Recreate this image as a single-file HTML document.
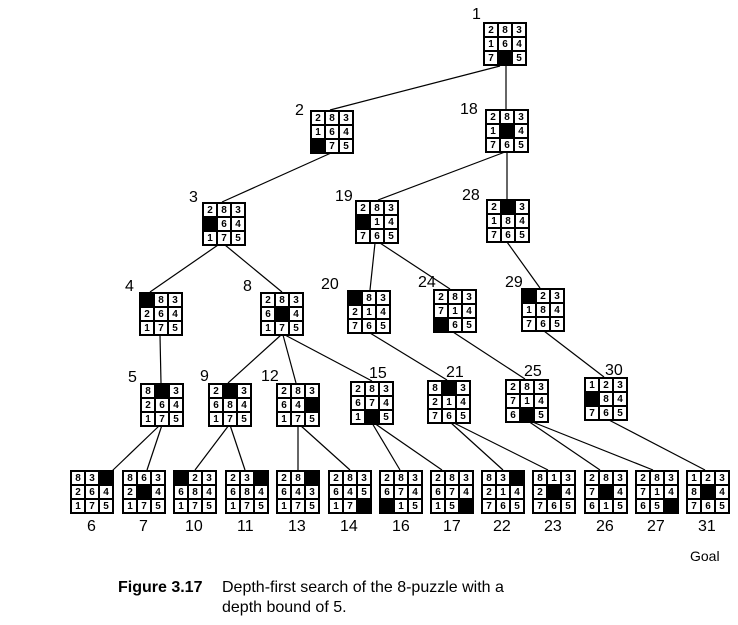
<!DOCTYPE html>
<html><head><meta charset="utf-8"><style>
body{margin:0;background:#fff;}
#c{position:relative;width:738px;height:625px;overflow:hidden;font-family:"Liberation Sans",sans-serif;}
.p{position:absolute;width:42px;height:42px;border:1.5px solid #000;display:grid;grid-template-columns:14px 14px 14px;grid-template-rows:14px 14px 14px;background:#fff;box-sizing:content-box}
.p i,.p b{font-style:normal;display:block;border:0.5px solid #000;box-sizing:border-box;font-size:10px;line-height:13px;text-align:center;font-weight:bold}
.p b{background:#000}
.l{position:absolute;font-size:16px;line-height:16px}
svg{position:absolute;left:0;top:0}
</style></head><body><div id="c">
<svg width="738" height="625" stroke="#000" stroke-width="1.2">
<line x1="500" y1="66" x2="330" y2="110"/><line x1="506" y1="66" x2="506" y2="109"/>
<line x1="331" y1="153" x2="222" y2="202"/>
<line x1="505" y1="152" x2="378" y2="200"/><line x1="507" y1="152" x2="507" y2="199"/>
<line x1="218" y1="245" x2="150" y2="292"/><line x1="225" y1="245" x2="282" y2="292"/>
<line x1="375" y1="243" x2="370" y2="290"/><line x1="380" y1="243" x2="450" y2="289"/>
<line x1="507" y1="242" x2="540" y2="288"/>
<line x1="370" y1="333" x2="447" y2="380"/><line x1="453" y1="332" x2="525" y2="379"/><line x1="544" y1="331" x2="604" y2="377"/>
<line x1="160" y1="335" x2="161" y2="383"/>
<line x1="281" y1="335" x2="228" y2="383"/><line x1="283" y1="335" x2="296" y2="383"/><line x1="285" y1="335" x2="372" y2="381"/>
<line x1="160" y1="425" x2="112" y2="471"/><line x1="162" y1="425" x2="147" y2="470"/>
<line x1="229" y1="425" x2="195" y2="470"/><line x1="230" y1="425" x2="245" y2="470"/>
<line x1="298" y1="425" x2="298" y2="470"/><line x1="300" y1="425" x2="350" y2="470"/>
<line x1="372" y1="423" x2="400" y2="470"/><line x1="374" y1="423" x2="442" y2="470"/>
<line x1="450" y1="422" x2="503" y2="470"/><line x1="452" y1="422" x2="548" y2="470"/>
<line x1="528" y1="421" x2="600" y2="470"/><line x1="530" y1="421" x2="653" y2="470"/>
<line x1="607" y1="419" x2="705" y2="470"/>
</svg>
<div class="p" style="left:483px;top:22px"><i>2</i><i>8</i><i>3</i><i>1</i><i>6</i><i>4</i><i>7</i><b></b><i>5</i></div>
<div class="p" style="left:310px;top:110px"><i>2</i><i>8</i><i>3</i><i>1</i><i>6</i><i>4</i><b></b><i>7</i><i>5</i></div>
<div class="p" style="left:485px;top:109px"><i>2</i><i>8</i><i>3</i><i>1</i><b></b><i>4</i><i>7</i><i>6</i><i>5</i></div>
<div class="p" style="left:202px;top:202px"><i>2</i><i>8</i><i>3</i><b></b><i>6</i><i>4</i><i>1</i><i>7</i><i>5</i></div>
<div class="p" style="left:355px;top:200px"><i>2</i><i>8</i><i>3</i><b></b><i>1</i><i>4</i><i>7</i><i>6</i><i>5</i></div>
<div class="p" style="left:486px;top:199px"><i>2</i><b></b><i>3</i><i>1</i><i>8</i><i>4</i><i>7</i><i>6</i><i>5</i></div>
<div class="p" style="left:139px;top:292px"><b></b><i>8</i><i>3</i><i>2</i><i>6</i><i>4</i><i>1</i><i>7</i><i>5</i></div>
<div class="p" style="left:260px;top:292px"><i>2</i><i>8</i><i>3</i><i>6</i><b></b><i>4</i><i>1</i><i>7</i><i>5</i></div>
<div class="p" style="left:347px;top:290px"><b></b><i>8</i><i>3</i><i>2</i><i>1</i><i>4</i><i>7</i><i>6</i><i>5</i></div>
<div class="p" style="left:433px;top:289px"><i>2</i><i>8</i><i>3</i><i>7</i><i>1</i><i>4</i><b></b><i>6</i><i>5</i></div>
<div class="p" style="left:521px;top:288px"><b></b><i>2</i><i>3</i><i>1</i><i>8</i><i>4</i><i>7</i><i>6</i><i>5</i></div>
<div class="p" style="left:140px;top:383px"><i>8</i><b></b><i>3</i><i>2</i><i>6</i><i>4</i><i>1</i><i>7</i><i>5</i></div>
<div class="p" style="left:208px;top:383px"><i>2</i><b></b><i>3</i><i>6</i><i>8</i><i>4</i><i>1</i><i>7</i><i>5</i></div>
<div class="p" style="left:276px;top:383px"><i>2</i><i>8</i><i>3</i><i>6</i><i>4</i><b></b><i>1</i><i>7</i><i>5</i></div>
<div class="p" style="left:350px;top:381px"><i>2</i><i>8</i><i>3</i><i>6</i><i>7</i><i>4</i><i>1</i><b></b><i>5</i></div>
<div class="p" style="left:427px;top:380px"><i>8</i><b></b><i>3</i><i>2</i><i>1</i><i>4</i><i>7</i><i>6</i><i>5</i></div>
<div class="p" style="left:505px;top:379px"><i>2</i><i>8</i><i>3</i><i>7</i><i>1</i><i>4</i><i>6</i><b></b><i>5</i></div>
<div class="p" style="left:584px;top:377px"><i>1</i><i>2</i><i>3</i><b></b><i>8</i><i>4</i><i>7</i><i>6</i><i>5</i></div>
<div class="p" style="left:70px;top:470px"><i>8</i><i>3</i><b></b><i>2</i><i>6</i><i>4</i><i>1</i><i>7</i><i>5</i></div>
<div class="p" style="left:122px;top:470px"><i>8</i><i>6</i><i>3</i><i>2</i><b></b><i>4</i><i>1</i><i>7</i><i>5</i></div>
<div class="p" style="left:173px;top:470px"><b></b><i>2</i><i>3</i><i>6</i><i>8</i><i>4</i><i>1</i><i>7</i><i>5</i></div>
<div class="p" style="left:225px;top:470px"><i>2</i><i>3</i><b></b><i>6</i><i>8</i><i>4</i><i>1</i><i>7</i><i>5</i></div>
<div class="p" style="left:276px;top:470px"><i>2</i><i>8</i><b></b><i>6</i><i>4</i><i>3</i><i>1</i><i>7</i><i>5</i></div>
<div class="p" style="left:328px;top:470px"><i>2</i><i>8</i><i>3</i><i>6</i><i>4</i><i>5</i><i>1</i><i>7</i><b></b></div>
<div class="p" style="left:379px;top:470px"><i>2</i><i>8</i><i>3</i><i>6</i><i>7</i><i>4</i><b></b><i>1</i><i>5</i></div>
<div class="p" style="left:430px;top:470px"><i>2</i><i>8</i><i>3</i><i>6</i><i>7</i><i>4</i><i>1</i><i>5</i><b></b></div>
<div class="p" style="left:481px;top:470px"><i>8</i><i>3</i><b></b><i>2</i><i>1</i><i>4</i><i>7</i><i>6</i><i>5</i></div>
<div class="p" style="left:532px;top:470px"><i>8</i><i>1</i><i>3</i><i>2</i><b></b><i>4</i><i>7</i><i>6</i><i>5</i></div>
<div class="p" style="left:584px;top:470px"><i>2</i><i>8</i><i>3</i><i>7</i><b></b><i>4</i><i>6</i><i>1</i><i>5</i></div>
<div class="p" style="left:635px;top:470px"><i>2</i><i>8</i><i>3</i><i>7</i><i>1</i><i>4</i><i>6</i><i>5</i><b></b></div>
<div class="p" style="left:686px;top:470px"><i>1</i><i>2</i><i>3</i><i>8</i><b></b><i>4</i><i>7</i><i>6</i><i>5</i></div>
<div class="l" style="left:472px;top:7px">1</div>
<div class="l" style="left:295px;top:103px">2</div>
<div class="l" style="left:460px;top:102px">18</div>
<div class="l" style="left:189px;top:190px">3</div>
<div class="l" style="left:335px;top:189px">19</div>
<div class="l" style="left:462px;top:188px">28</div>
<div class="l" style="left:125px;top:279px">4</div>
<div class="l" style="left:243px;top:279px">8</div>
<div class="l" style="left:321px;top:277px">20</div>
<div class="l" style="left:418px;top:275px">24</div>
<div class="l" style="left:505px;top:275px">29</div>
<div class="l" style="left:128px;top:370px">5</div>
<div class="l" style="left:200px;top:369px">9</div>
<div class="l" style="left:261px;top:369px">12</div>
<div class="l" style="left:369px;top:366px">15</div>
<div class="l" style="left:446px;top:365px">21</div>
<div class="l" style="left:524px;top:364px">25</div>
<div class="l" style="left:605px;top:363px">30</div>
<div class="l" style="left:87px;top:519px">6</div>
<div class="l" style="left:139px;top:519px">7</div>
<div class="l" style="left:185px;top:519px">10</div>
<div class="l" style="left:237px;top:519px">11</div>
<div class="l" style="left:288px;top:519px">13</div>
<div class="l" style="left:340px;top:519px">14</div>
<div class="l" style="left:392px;top:519px">16</div>
<div class="l" style="left:443px;top:519px">17</div>
<div class="l" style="left:493px;top:519px">22</div>
<div class="l" style="left:544px;top:519px">23</div>
<div class="l" style="left:596px;top:519px">26</div>
<div class="l" style="left:647px;top:519px">27</div>
<div class="l" style="left:698px;top:519px">31</div>
<div class="l" style="left:690px;top:548px;font-size:14px">Goal</div>
<div class="l" style="left:118px;top:580px;font-size:16px;font-weight:bold">Figure 3.17</div>
<div class="l" style="left:222px;top:580px;font-size:16px">Depth-first search of the 8-puzzle with a</div>
<div class="l" style="left:222px;top:600px;font-size:16px">depth bound of 5.</div>
</div></body></html>
